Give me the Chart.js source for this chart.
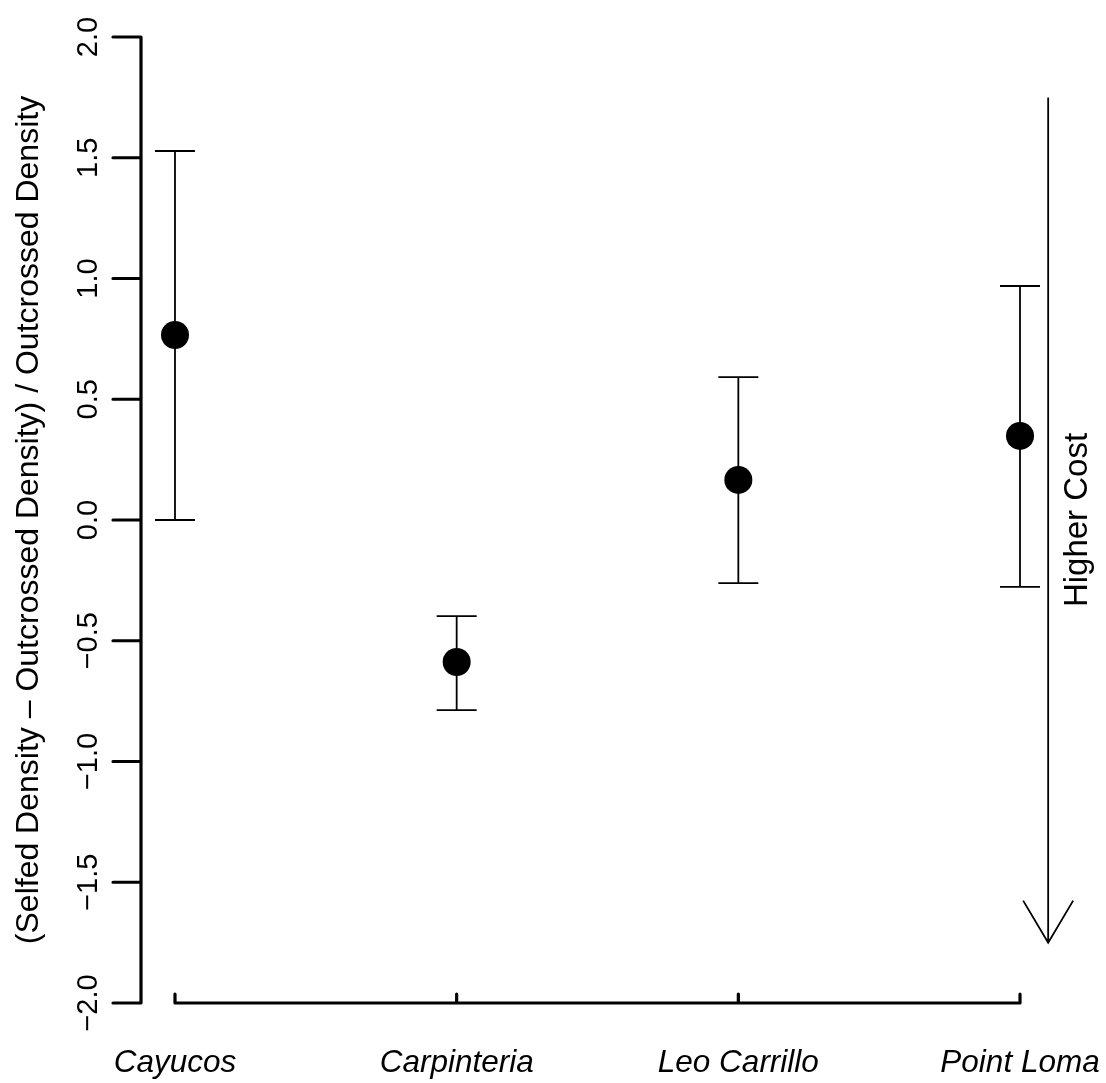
<!DOCTYPE html>
<html>
<head>
<meta charset="utf-8">
<script src="https://cdn.jsdelivr.net/npm/chart.js@4"></script>
<style>
  html, body { margin: 0; padding: 0; background: #fff; }
  canvas { display: block; }
</style>
</head>
<body>
<canvas id="grafico" width="1106" height="1083"></canvas>
<script>
const sites = ['Cayucos', 'Carpinteria', 'Leo Carrillo', 'Point Loma'];
const media = [0.766, -0.588, 0.166, 0.348];
const limSup = [1.528, -0.398, 0.592, 0.969];
const limInf = [0.0, -0.787, -0.261, -0.277];
const yTicks = [-2.0, -1.5, -1.0, -0.5, 0.0, 0.5, 1.0, 1.5, 2.0];
const yTickLabels = ['\u22122.0', '\u22121.5', '\u22121.0', '\u22120.5', '0.0', '0.5', '1.0', '1.5', '2.0'];
const tituloY = '(Selfed Density \u2013 Outcrossed Density) / Outcrossed Density';
const setaTexto = 'Higher Cost';
// arrow position in data units
const setaX = 3.1;
const setaTopo = 1.75;
const setaBase = -1.75;

const fonte = '"Liberation Sans", Arial, Helvetica, sans-serif';

const desenhoExtra = {
  id: 'desenhoExtra',
  beforeDatasetsDraw(chart) {
    const ctx = chart.ctx;
    const x = chart.scales.x, y = chart.scales.y;
    ctx.save();
    ctx.strokeStyle = '#000';
    ctx.lineWidth = 1.8;
    sites.forEach((s, i) => {
      const px = x.getPixelForValue(i);
      const top = y.getPixelForValue(limSup[i]);
      const bot = y.getPixelForValue(limInf[i]);
      ctx.beginPath();
      ctx.moveTo(px, top); ctx.lineTo(px, bot);
      ctx.moveTo(px - 20, top); ctx.lineTo(px + 20, top);
      ctx.moveTo(px - 20, bot); ctx.lineTo(px + 20, bot);
      ctx.stroke();
    });
    ctx.restore();
  },
  afterDatasetsDraw(chart) {
    const ctx = chart.ctx;
    const x = chart.scales.x, y = chart.scales.y;
    const area = chart.chartArea;
    ctx.save();
    ctx.strokeStyle = '#000';
    ctx.fillStyle = '#000';
    ctx.lineCap = 'round';

    // eixo y
    ctx.lineWidth = 3.2;
    ctx.beginPath();
    ctx.moveTo(area.left, y.getPixelForValue(yTicks[0]));
    ctx.lineTo(area.left, y.getPixelForValue(yTicks[yTicks.length - 1]));
    yTicks.forEach(t => {
      const py = y.getPixelForValue(t);
      ctx.moveTo(area.left, py);
      ctx.lineTo(area.left - 28, py);
    });
    ctx.stroke();

    ctx.font = '29px ' + fonte;
    ctx.textAlign = 'center';
    ctx.textBaseline = 'alphabetic';
    yTicks.forEach((t, i) => {
      const py = y.getPixelForValue(t);
      ctx.save();
      ctx.translate(97, py);
      ctx.rotate(-Math.PI / 2);
      ctx.fillText(yTickLabels[i], 0, 0);
      ctx.restore();
    });

    // eixo x
    const bottom = area.bottom;
    ctx.beginPath();
    ctx.moveTo(x.getPixelForValue(0), bottom);
    ctx.lineTo(x.getPixelForValue(sites.length - 1), bottom);
    sites.forEach((s, i) => {
      const px = x.getPixelForValue(i);
      ctx.moveTo(px, bottom);
      ctx.lineTo(px, bottom - 9);
    });
    ctx.stroke();

    ctx.font = 'italic 31.5px ' + fonte;
    sites.forEach((s, i) => {
      ctx.fillText(s, x.getPixelForValue(i), 1072);
    });

    // titulo y
    ctx.font = '32px ' + fonte;
    ctx.save();
    ctx.translate(38, (area.top + area.bottom) / 2);
    ctx.rotate(-Math.PI / 2);
    ctx.fillText(tituloY, 0, 0);
    ctx.restore();

    // seta
    const ax = x.getPixelForValue(setaX);
    const at = y.getPixelForValue(setaTopo);
    const ab = y.getPixelForValue(setaBase);
    ctx.lineWidth = 1.8;
    ctx.lineCap = 'butt';
    ctx.beginPath();
    ctx.moveTo(ax, at); ctx.lineTo(ax, ab);
    ctx.moveTo(ax - 25, ab - 42); ctx.lineTo(ax, ab); ctx.lineTo(ax + 25, ab - 42);
    ctx.stroke();

    ctx.font = '33px ' + fonte;
    ctx.save();
    ctx.translate(1087, (at + ab) / 2);
    ctx.rotate(-Math.PI / 2);
    ctx.fillText(setaTexto, 0, 0);
    ctx.restore();

    ctx.restore();
  }
};

new Chart(document.getElementById('grafico'), {
  type: 'scatter',
  data: {
    datasets: [{
      label: 'Media',
      data: sites.map((s, i) => ({ x: i, y: media[i] })),
      backgroundColor: '#000',
      borderColor: '#000',
      pointRadius: 14,
      pointHoverRadius: 14,
      borderWidth: 0
    }]
  },
  options: {
    responsive: false,
    animation: false,
    devicePixelRatio: 1,
    layout: { autoPadding: false, padding: { left: 141, right: 0, top: 37, bottom: 80 } },
    plugins: { legend: { display: false }, tooltip: { enabled: false } },
    scales: {
      x: { type: 'linear', min: -0.1207, max: 3.3053, display: false },
      y: { min: -2, max: 2, display: false }
    }
  },
  plugins: [desenhoExtra]
});
</script>
</body>
</html>
